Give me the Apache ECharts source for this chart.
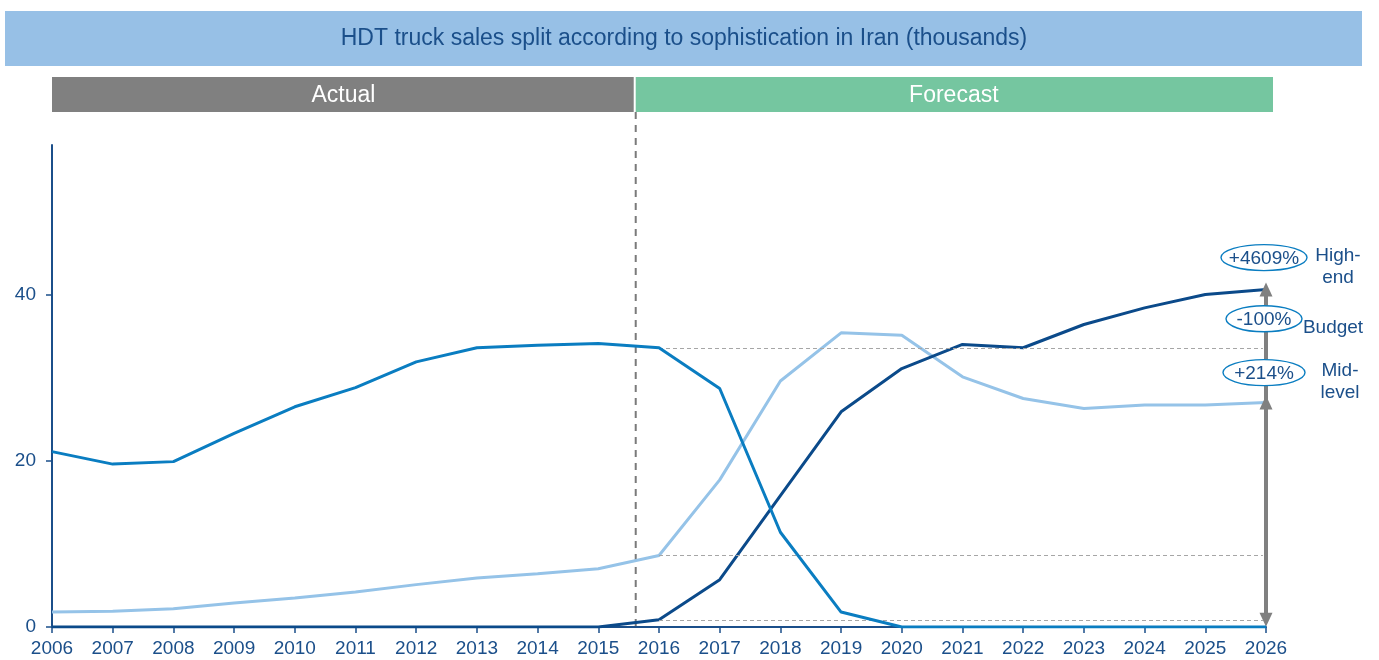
<!DOCTYPE html>
<html><head><meta charset="utf-8">
<script src="https://cdn.jsdelivr.net/npm/echarts@6/dist/echarts.min.js"></script>
<style>html,body{margin:0;padding:0;background:#fff}#c{width:1379px;height:660px}</style>
</head><body><div id="c"></div>
<script>
const years = [2006,2007,2008,2009,2010,2011,2012,2013,2014,2015,2016,2017,2018,2019,2020,2021,2022,2023,2024,2025,2026];
const budget   = [21.1,19.6,19.9,23.3,26.5,28.8,31.9,33.6,33.9,34.1,33.6,28.7,11.4,1.8,0,0,0,0,0,0,0];
const midLevel = [1.8,1.9,2.2,2.9,3.5,4.2,5.1,5.9,6.4,7.0,8.6,17.7,29.6,35.4,35.1,30.1,27.5,26.3,26.7,26.7,27.0];
const highEnd  = [0,0,0,0,0,0,0,0,0,0,0.86,5.7,15.8,25.9,31.1,34.0,33.6,36.4,38.4,40.0,40.6];
const yTicks = [0,20,40];
const changeLabels = ['+4609%','-100%','+214%'];
const sideLabels = ['High-\nend','Budget','Mid-\nlevel'];
const titleText = 'HDT truck sales split according to sophistication in Iran (thousands)';
const phaseLabels = ['Actual','Forecast'];
const forecastStart = 2015.6;
const baseYear = 2016, endYear = 2026;

const NAVY = '#1b4f8a';
const FONT = '"Liberation Sans", Arial, sans-serif';
const pairs = arr => years.map((y,i)=>[y,arr[i]]);
const bi = years.indexOf(baseYear), ei = years.indexOf(endYear);

const dashLine = v => [{coord:[baseYear, v]},{coord:[endYear - 0.05, v]}];
const arrowStyle = {color:'#808080', width:4, type:'solid'};

const chart = echarts.init(document.getElementById('c'), null, {renderer:'canvas'});
const option = {
  animation:false,
  textStyle:{fontFamily:FONT},
  grid:{left:52, right:113, top:145, bottom:33, containLabel:false},
  xAxis:{
    type:'value', min:2006, max:2026, interval:1,
    axisLine:{lineStyle:{color:NAVY, width:2}},
    axisTick:{show:true, length:6, lineStyle:{color:NAVY, width:1.5}},
    axisLabel:{color:NAVY, fontSize:19, fontFamily:FONT, margin:12, formatter:v=>String(v)},
    splitLine:{show:false}
  },
  yAxis:{
    type:'value', min:0, max:58,
    axisLine:{show:true, lineStyle:{color:NAVY, width:2}},
    axisTick:{show:true, length:6, customValues:yTicks, lineStyle:{color:NAVY, width:1.5}},
    axisLabel:{color:NAVY, fontSize:19, fontFamily:FONT, margin:16, customValues:yTicks},
    splitLine:{show:false}
  },
  series:[
    {name:'Mid-level', type:'line', data:pairs(midLevel), symbol:'none', z:3,
     lineStyle:{color:'#95c3e8', width:3},
     markLine:{silent:true, symbol:['none','none'], label:{show:false},
       lineStyle:{color:'#a6a6a6', width:1, type:[4,3]},
       data:[dashLine(midLevel[bi])]}},
    {name:'High-end', type:'line', data:pairs(highEnd), symbol:'none', z:4,
     lineStyle:{color:'#0b4a8a', width:3},
     markLine:{silent:true, symbol:['none','none'], label:{show:false},
       lineStyle:{color:'#a6a6a6', width:1, type:[4,3]},
       data:[dashLine(highEnd[bi])]}},
    {name:'Budget', type:'line', data:pairs(budget), symbol:'none', z:5,
     lineStyle:{color:'#0a7dc1', width:3},
     markLine:{silent:true, symbol:['none','none'], label:{show:false},
       lineStyle:{color:'#a6a6a6', width:1, type:[4,3]},
       data:[dashLine(budget[bi])]}},
    {name:'arrows', type:'line', data:[], z:6,
     markLine:{silent:true, label:{show:false}, symbol:['none','triangle'], symbolSize:[13,14],
       lineStyle:arrowStyle,
       data:[
         [{coord:[endYear, highEnd[bi]]},{coord:[endYear, highEnd[ei]]}],
         [{coord:[endYear, midLevel[bi]]},{coord:[endYear, midLevel[ei]]}],
         [{coord:[endYear, budget[bi]]},{coord:[endYear, highEnd[bi]]}]
       ]}}
  ]
};
chart.setOption(option);

const px = (x,y) => chart.convertToPixel({xAxisIndex:0, yAxisIndex:0},[x,y]);
const p0 = px(2006,0), pF = px(forecastStart,0), pE = px(endYear,0);
const g = [];
// title bar
g.push({type:'rect', shape:{x:5,y:11,width:1357,height:55}, style:{fill:'#97c0e6'}});
g.push({type:'text', x:684, y:39, style:{text:titleText, fill:NAVY, font:'23px '+FONT, textAlign:'center', textVerticalAlign:'middle'}});
// phase bars
g.push({type:'rect', shape:{x:p0[0], y:77, width:pF[0]-1-p0[0], height:35}, style:{fill:'#808080'}});
g.push({type:'text', x:(p0[0]+pF[0])/2, y:96, style:{text:phaseLabels[0], fill:'#fff', font:'23px '+FONT, textAlign:'center', textVerticalAlign:'middle'}});
const fEnd = pE[0]+7;
g.push({type:'rect', shape:{x:pF[0]+1, y:77, width:fEnd-pF[0]-1, height:35}, style:{fill:'#75c6a0'}});
g.push({type:'text', x:(pF[0]+fEnd)/2, y:96, style:{text:phaseLabels[1], fill:'#fff', font:'23px '+FONT, textAlign:'center', textVerticalAlign:'middle'}});
// vertical dashed separator
g.push({type:'line', shape:{x1:pF[0]+1, y1:112, x2:pF[0]+1, y2:p0[1]}, style:{stroke:'#7a7a7a', lineWidth:2, lineDash:[7,6]}, z:1});
// change ellipses and side labels
const ax = pE[0];
const ellY = [px(endYear,highEnd[ei])[1]-32, px(endYear,budget[bi])[1]-29, px(endYear,midLevel[ei])[1]-30];
const ellRx = [43, 38, 41];
ellY.forEach((y,i)=>{
  g.push({type:'ellipse', shape:{cx:ax-2, cy:y, rx:ellRx[i], ry:13}, style:{fill:'#fff', stroke:'#0a7dc1', lineWidth:1.4}, z:10});
  g.push({type:'text', x:ax-2, y:y+1, style:{text:changeLabels[i], fill:NAVY, font:'19px '+FONT, textAlign:'center', textVerticalAlign:'middle'}, z:11});
});
const sideX = [ax+72, ax+67, ax+74];
const sideY = [ellY[0]+9, ellY[1]+9, ellY[2]+9];
sideLabels.forEach((t,i)=>{
  g.push({type:'text', x:sideX[i], y:sideY[i], style:{text:t, fill:NAVY, font:'19px '+FONT, textAlign:'center', textVerticalAlign:'middle', lineHeight:22}, z:11});
});
chart.setOption({graphic:{elements:g}});
</script>
</body></html>
